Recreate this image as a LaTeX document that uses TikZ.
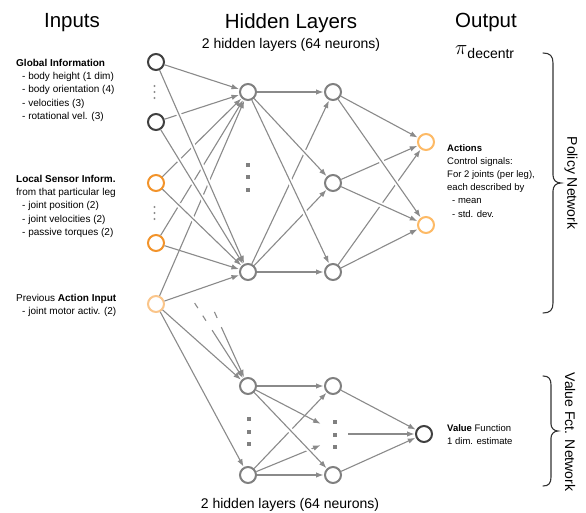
\documentclass[tikz,border=0pt]{standalone}
\usepackage{fontspec}
\setmainfont{Liberation Sans}
\usetikzlibrary{arrows.meta,calc}

\definecolor{wirec}{HTML}{8A8A8A}
\definecolor{hidc}{HTML}{808080}
\definecolor{darkc}{HTML}{404040}
\definecolor{orgc}{HTML}{F2932A}
\definecolor{lorgc}{HTML}{FAC58A}
\definecolor{outc}{HTML}{FDBA66}
\definecolor{dotc}{HTML}{8C8C8C}
\definecolor{bracec}{HTML}{333333}

\begin{document}
\begin{tikzpicture}[x=1pt,y=-1pt,
  neuron/.style={circle, draw=#1, line width=2pt, minimum size=16pt, inner sep=0pt, fill=white},
  wire/.style={draw=wirec, line width=1.1pt, -{Latex[length=7.5pt,width=5.5pt]}, shorten >=0.5pt,
    preaction={draw=white, line width=5pt, -, shorten >=22pt, shorten <=22pt}},
  plainwire/.style={draw=wirec, line width=1.1pt},
  fadewire/.style={draw=wirec, line width=1.1pt, dash pattern=on 6pt off 9pt},
  title/.style={font=\fontsize{20.5}{20.5}\selectfont, anchor=base, inner sep=0pt},
  subtitle/.style={font=\fontsize{14}{14}\selectfont, anchor=base, inner sep=0pt},
  lefttxt/.style={font=\fontsize{10}{13.1}\selectfont, align=left, anchor=north west, inner sep=0pt},
  righttxt/.style={font=\fontsize{9.5}{13.1}\selectfont, align=left, anchor=north west, inner sep=0pt},
  sidetxt/.style={font=\fontsize{14}{14}\selectfont, rotate=-90, inner sep=0pt},
  bracestyle/.style={draw=bracec, line width=1.1pt, line cap=round},
  sqdot/.style={fill=hidc},
  smalldot/.style={fill=dotc}
]
\useasboundingbox (0,0) rectangle (586,513);

% ---------- headers ----------
\node[title] (tIn)  at (72,27.5)  {Inputs};
\node[title] (tHid) at (291,28.5) {Hidden Layers};
\node[title] (tOut) at (486,27.5) {Output};
\node[subtitle] (subTop) at (291,48.5) {2 hidden layers (64 neurons)};
\node[subtitle] (subBot) at (290,508) {2 hidden layers (64 neurons)};
\node[anchor=base west, inner sep=0pt] (piLbl) at (455,55)
  {\fontsize{21}{21}\selectfont$\pi$\raisebox{-4pt}{\fontsize{14}{14}\selectfont decentr}};

% ---------- input descriptions ----------
\node[lefttxt] (globTxt) at (16,59.3) {\textbf{Global Information}\\
  \hspace*{6pt}- body height (1 dim)\\
  \hspace*{6pt}- body orientation (4)\\
  \hspace*{6pt}- velocities (3)\\
  \hspace*{6pt}- rotational vel. (3)};
\node[lefttxt] (locTxt) at (16,175.3) {\textbf{Local Sensor Inform.}\\
  from that particular leg\\
  \hspace*{6pt}- joint position (2)\\
  \hspace*{6pt}- joint velocities (2)\\
  \hspace*{6pt}- passive torques (2)};
\node[lefttxt] (actTxt) at (16,294.3) {Previous \textbf{Action Input}\\
  \hspace*{6pt}- joint motor activ. (2)};

% ---------- output descriptions ----------
\node[righttxt] (outTxt) at (447,144.5) {\textbf{Actions}\\
  Control signals:\\
  For 2 joints (per leg),\\
  each described by\\
  \hspace*{5pt}- mean\\
  \hspace*{5pt}- std. dev.};
\node[righttxt] (valTxt) at (447,424.6) {\textbf{Value} Function\\
  1 dim. estimate};

% ---------- neurons ----------
\node[neuron=darkc] (G1) at (156,62) {};
\node[neuron=darkc] (G2) at (156,122) {};
\node[neuron=orgc]  (L1) at (156,183) {};
\node[neuron=orgc]  (L2) at (156,243) {};
\node[neuron=lorgc] (A)  at (156,304) {};

\node[neuron=hidc] (H1a) at (248,92) {};
\node[neuron=hidc] (H1b) at (248,272) {};
\node[neuron=hidc] (H2a) at (333,92) {};
\node[neuron=hidc] (H2b) at (333,183) {};
\node[neuron=hidc] (H2c) at (333,272) {};
\node[neuron=outc] (O1) at (426,142) {};
\node[neuron=outc] (O2) at (426,225) {};

\node[neuron=hidc] (V1a) at (248,386) {};
\node[neuron=hidc] (V1b) at (248,475) {};
\node[neuron=hidc] (V2a) at (333,386) {};
\node[neuron=hidc] (V2b) at (333,475) {};
\node[neuron=darkc] (VO) at (424,434) {};

% free ends around the elided neurons of the value net
\coordinate (vd1) at (321,424);
\coordinate (vd2) at (321,445);
\coordinate (vd3) at (348,434);

% ---------- ellipsis dots ----------
\foreach \y in {86,92,98,207,213,219} \fill[smalldot] (154.5,\y) circle (1.1pt);
\foreach \y in {165,177.5,190} \fill[sqdot] (248,\y) ++(-2,-2) rectangle ++(4,4);
\foreach \y in {419,431.5,444} \fill[sqdot] (249,\y) ++(-2,-2) rectangle ++(4,4);
\foreach \y in {422,434.5,447} \fill[sqdot] (335,\y) ++(-2,-2) rectangle ++(4,4);

% ---------- rising connections (drawn first, cut by later ones) ----------
\foreach \a/\b in {G2/H1a, L1/H1a, L2/H1a, A/H1a, A/H1b,
                   H1b/H2a, H1b/H2b, H2b/O1, H2c/O1, H2c/O2,
                   V1b/V2a, V1b/vd2}
  \draw[wire] (\a) -- (\b);

% ---------- falling and level connections ----------
\foreach \a/\b in {G1/H1a, G1/H1b, G2/H1b, L1/H1b, L2/H1b, A/V1a, A/V1b,
                   H1a/H2a, H1a/H2b, H1a/H2c, H1b/H2c,
                   H2a/O1, H2a/O2, H2b/O2,
                   V1a/V2a, V1a/vd1, V1a/V2b, V1b/V2b,
                   V2a/VO, vd3/VO, V2b/VO}
  \draw[wire] (\a) -- (\b);

% ---------- sensor inputs fading into the value net ----------
\draw[fadewire] ($(L2)!0.42!(V1a)$) -- ($(L2)!0.58!(V1a)$);
\draw[wire] ($(L2)!0.61!(V1a)$) -- (V1a);
\draw[plainwire] ($(L1)!0.635!(V1a)$) -- ($(L1)!0.665!(V1a)$);
\draw[wire] ($(L1)!0.71!(V1a)$) -- (V1a);

% ---------- braces ----------
\draw[bracestyle] (543,53) .. controls (550,53) and (553,56) .. (553,63)
  -- (553,175) .. controls (553,180) and (556,183) .. (561,183)
  .. controls (556,183) and (553,186) .. (553,191)
  -- (553,303) .. controls (553,310) and (550,313) .. (543,313);
\draw[bracestyle] (543,376) .. controls (549,376) and (551,379) .. (551,385)
  -- (551,424) .. controls (551,428) and (554,431) .. (558,431)
  .. controls (554,431) and (551,434) .. (551,438)
  -- (551,477) .. controls (551,483) and (549,486) .. (543,486);

\node[sidetxt] (polLbl) at (571,183) {Policy Network};
\node[sidetxt] (valLbl) at (570,432) {Value Fct. Network};
\end{tikzpicture}
\end{document}
